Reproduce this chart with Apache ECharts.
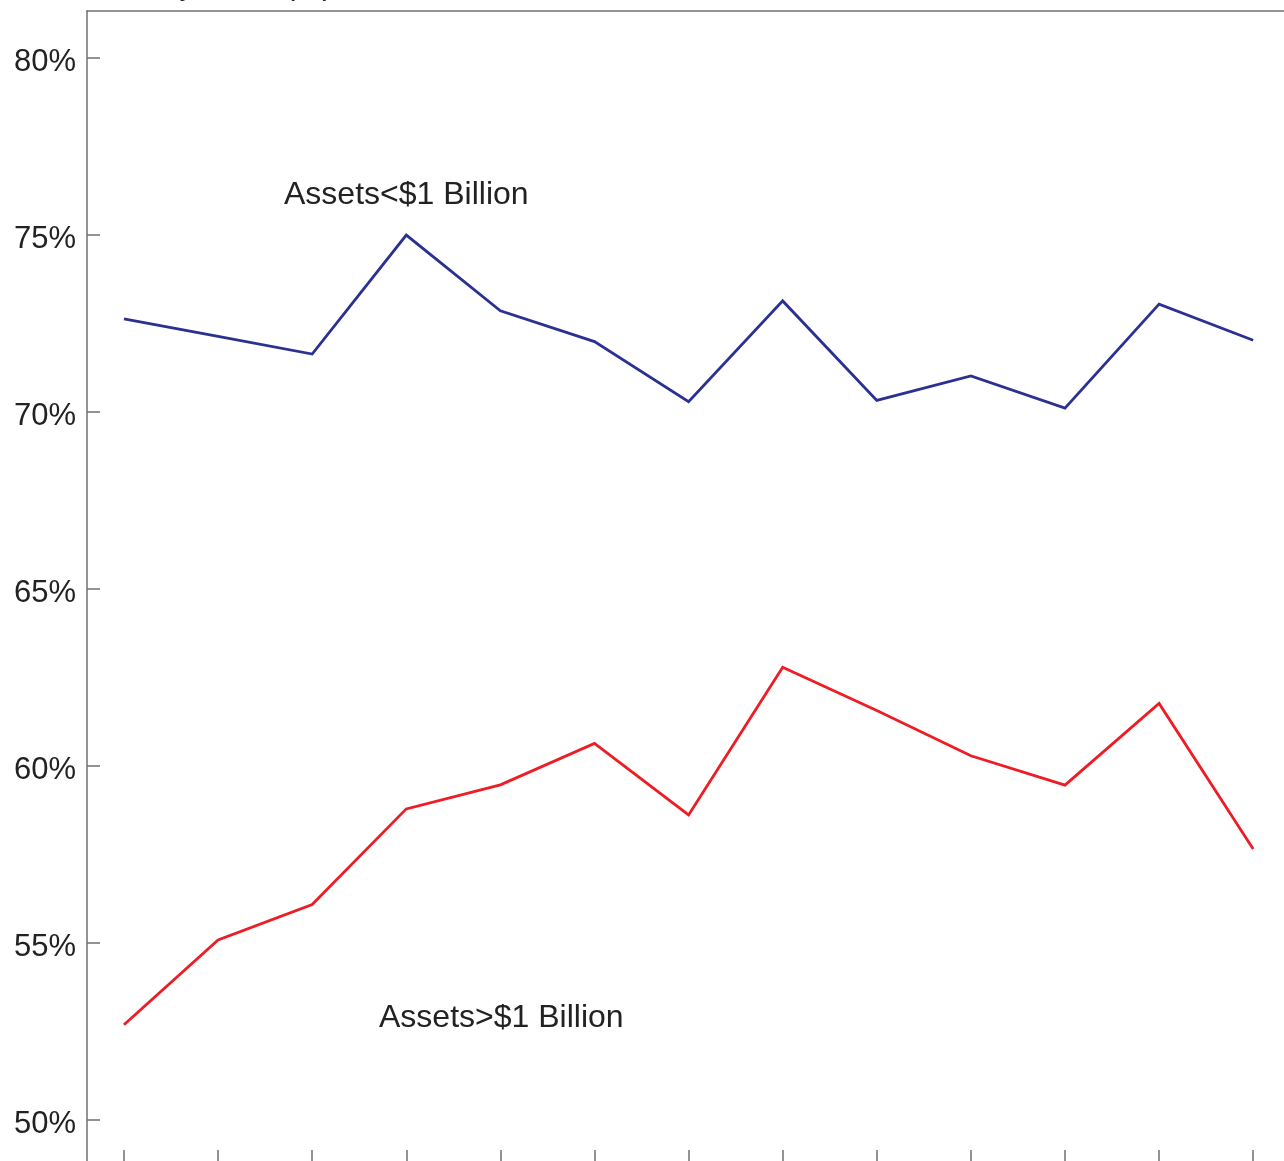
<!DOCTYPE html>
<html>
<head>
<meta charset="utf-8">
<title>Efficiency Ratio</title>
<script src="https://cdn.jsdelivr.net/npm/echarts@6/dist/echarts.min.js"></script>
<style>
  html, body { margin: 0; padding: 0; background: #ffffff; overflow: hidden; }
  /* the plot frame runs past the right and bottom edges of the page */
  #chart { width: 1304px; height: 1165px; }
</style>
</head>
<body>
<div id="chart"></div>
<script>
// Period index along the horizontal axis (13 observations)
const periods = [0, 1, 2, 3, 4, 5, 6, 7, 8, 9, 10, 11, 12];

// Efficiency ratio (%) by bank size
const smallBanks = [72.63, 72.14, 71.64, 75.0, 72.86, 71.99, 70.29, 73.14, 70.33, 71.02, 70.11, 73.05, 72.03];
const largeBanks = [52.69, 55.09, 56.09, 58.79, 59.47, 60.64, 58.62, 62.79, 61.57, 60.29, 59.46, 61.77, 57.66];

// Y axis tick values and labels
const yTicks = [50, 55, 60, 65, 70, 75, 80];
const yTickLabels = ['50%', '55%', '60%', '65%', '70%', '75%', '80%'];

const seriesNames = ['Assets<$1 Billion', 'Assets>$1 Billion'];
const titleText = 'Efficiency Ratio (%)';

const FONT = '"Liberation Sans", Arial, Helvetica, sans-serif';
const AXIS_COLOR = '#707070';
const TEXT_COLOR = '#222222';

const chart = echarts.init(document.getElementById('chart'), null, { renderer: 'canvas' });

const toPairs = (vals) => vals.map((v, i) => [periods[i], v]);

const X_MIN = -0.393;
const X_MAX = 12.54;

const option = {
  backgroundColor: '#ffffff',
  animation: false,
  grid: { left: 87, top: 11, right: 0, bottom: 0, containLabel: false },
  xAxis: [
    {
      type: 'value',
      position: 'bottom',
      min: X_MIN,
      max: X_MAX,
      axisLine: { show: false },
      axisTick: {
        show: true, inside: true, length: 15,
        customValues: periods,
        lineStyle: { color: AXIS_COLOR, width: 1.5 }
      },
      axisLabel: { show: false },
      splitLine: { show: false }
    },
    {
      type: 'value',
      position: 'top',
      min: X_MIN,
      max: X_MAX,
      axisLine: { show: true, onZero: false, lineStyle: { color: AXIS_COLOR, width: 1.5 } },
      axisTick: { show: false },
      axisLabel: { show: false },
      splitLine: { show: false }
    }
  ],
  yAxis: {
    type: 'value',
    min: 48.73,
    max: 81.33,
    axisLine: { show: true, onZero: false, lineStyle: { color: AXIS_COLOR, width: 1.5 } },
    axisTick: {
      show: true, inside: true, length: 13,
      customValues: yTicks,
      lineStyle: { color: AXIS_COLOR, width: 1.5 }
    },
    axisLabel: {
      show: true,
      customValues: yTicks,
      formatter: (v) => yTickLabels[yTicks.indexOf(Math.round(v))] || '',
      color: TEXT_COLOR,
      fontFamily: FONT,
      fontSize: 31,
      margin: 11,
      verticalAlign: 'top',
      lineHeight: 8
    },
    splitLine: { show: false }
  },
  series: [
    {
      name: seriesNames[0],
      type: 'line',
      xAxisIndex: 0,
      data: toPairs(smallBanks),
      symbol: 'none',
      lineStyle: { color: '#2b3191', width: 2.8, join: 'miter' },
      z: 3
    },
    {
      name: seriesNames[1],
      type: 'line',
      xAxisIndex: 0,
      data: toPairs(largeBanks),
      symbol: 'none',
      lineStyle: { color: '#ee1c25', width: 2.8, join: 'miter' },
      z: 3
    }
  ],
  graphic: [
    {
      type: 'text',
      left: 63, top: -30,
      style: { text: titleText, font: '31px ' + FONT, fill: TEXT_COLOR }
    },
    {
      type: 'text',
      left: 284, top: 179,
      style: { text: seriesNames[0], font: '32px ' + FONT, fill: TEXT_COLOR }
    },
    {
      type: 'text',
      left: 379, top: 1002,
      style: { text: seriesNames[1], font: '32px ' + FONT, fill: TEXT_COLOR }
    }
  ]
};

chart.setOption(option);
</script>
</body>
</html>
